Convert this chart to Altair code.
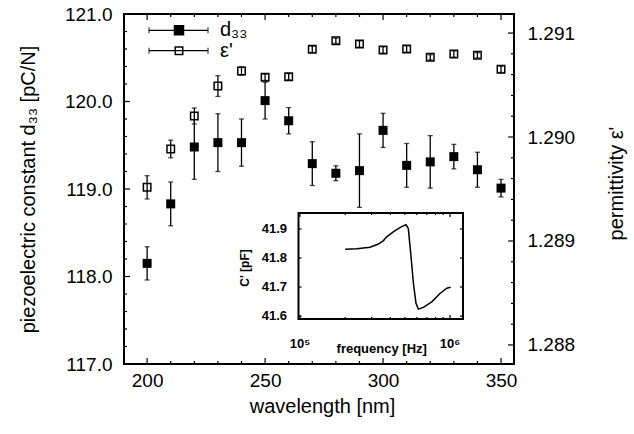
import altair as alt
import pandas as pd

# ---------------- data ----------------
wavelength = [200, 210, 220, 230, 240, 250, 260, 270, 280, 290, 300, 310, 320, 330, 340, 350]
d33 = [118.15, 118.83, 119.48, 119.53, 119.53, 120.01, 119.78, 119.29,
       119.18, 119.21, 119.67, 119.27, 119.31, 119.37, 119.22, 119.01]
d33_err = [0.19, 0.25, 0.37, 0.33, 0.27, 0.21, 0.15, 0.25,
           0.085, 0.42, 0.195, 0.25, 0.30, 0.14, 0.20, 0.10]
eps = [1.289516, 1.289885, 1.290202, 1.290490, 1.290635, 1.290574, 1.290580, 1.290843,
       1.290926, 1.290894, 1.290837, 1.290846, 1.290766, 1.290798, 1.290786, 1.290651]
eps_err = [0.000112, 0.000085, 0.000077, 0.000100, 0.000040, 0.000030, 0.000030, 0.000030,
           0.000025, 0.000030, 0.000030, 0.000030, 0.000025, 0.000030, 0.000025, 0.000030]

# inset: capacitance vs frequency
freq_hz = [2.00e5, 2.39e5, 2.93e5, 3.33e5, 3.60e5, 3.78e5, 4.30e5, 4.76e5, 5.09e5, 5.27e5,
           5.47e5, 5.70e5, 5.93e5, 6.15e5, 6.64e5, 7.55e5, 8.57e5, 9.51e5, 1.01e6]
cap_pf = [41.830, 41.832, 41.837, 41.848, 41.860, 41.873, 41.894, 41.908, 41.915, 41.902,
          41.816, 41.713, 41.644, 41.624, 41.630, 41.649, 41.678, 41.696, 41.699]

# tick labels / tick positions
x_major = [200, 250, 300, 350]
x_minor = [210, 220, 230, 240, 260, 270, 280, 290, 310, 320, 330, 340]
yl_major = [117.0, 118.0, 119.0, 120.0, 121.0]
yl_minor = [117.2, 117.4, 117.6, 117.8, 118.2, 118.4, 118.6, 118.8, 119.2, 119.4, 119.6, 119.8,
            120.2, 120.4, 120.6, 120.8]
yr_major = [1.288, 1.289, 1.290, 1.291]
yr_minor = [1.2882, 1.2884, 1.2886, 1.2888, 1.2892, 1.2894, 1.2896, 1.2898,
            1.2902, 1.2904, 1.2906, 1.2908]
inset_y_ticks = [41.6, 41.7, 41.8, 41.9]
inset_x_major = [1e5, 1e6]
inset_x_labels = ["10⁵", "10⁶"]
inset_x_minor = [2e5, 3e5, 4e5, 5e5, 6e5, 7e5, 8e5, 9e5]

legend_labels = ["d₃₃", "ε'"]
legend_rows = [0, 1]
legend_fills = ["black", "white"]
legend_sizes = [81, 56]

# ---------------- layout ----------------
W, H = 390, 350
FONT = "Liberation Sans"

main_df = pd.DataFrame({
    "wl": wavelength,
    "d33": d33,
    "d_lo": [v - e for v, e in zip(d33, d33_err)],
    "d_hi": [v + e for v, e in zip(d33, d33_err)],
    "eps": eps,
    "e_lo": [v - e for v, e in zip(eps, eps_err)],
    "e_hi": [v + e for v, e in zip(eps, eps_err)],
})

x_scale = alt.Scale(domain=[190.2, 355.5], nice=False, zero=False)
yl_scale = alt.Scale(domain=[117.0, 121.0], nice=False, zero=False)
yr_scale = alt.Scale(domain=[1.287817, 1.291183], nice=False, zero=False)

x_axis = alt.Axis(values=x_major, format="d", title="wavelength [nm]", ticks=False, tickSize=0,
                  domain=False, grid=False, labelPadding=7, titleX=W / 2 + 3, titleY=42,
                  titleAlign="center", titleBaseline="middle")
yl_axis = alt.Axis(orient="left", values=yl_major, format=".1f",
                   title="piezoelectric constant d₃₃ [pC/N]", ticks=False, tickSize=0,
                   domain=False, grid=False, labelPadding=12, titleX=-96, titleY=175,
                   titleAngle=270, titleAlign="center", titleBaseline="middle")
yr_axis = alt.Axis(orient="right", values=yr_major, format=".3f", title="permittivity ε'",
                   ticks=False, tickSize=0, domain=False, grid=False, labelPadding=13,
                   titleX=102, titleY=169, titleAngle=270, titleAlign="center",
                   titleBaseline="middle")


def XM(f):
    return alt.X(f"{f}:Q", scale=x_scale, axis=x_axis)


def XR(f):
    return alt.X(f"{f}:Q", scale=x_scale, axis=None)


def YL(f):
    return alt.Y(f"{f}:Q", scale=yl_scale, axis=yl_axis)


def YR(f):
    return alt.Y(f"{f}:Q", scale=yr_scale, axis=yr_axis)


def vals(lst):
    return pd.DataFrame({"v": lst})


# ---- left / x group ----
xt_bot_maj = alt.Chart(vals(x_major)).mark_rule(color="black", strokeWidth=1.2).encode(
    x=XM("v"), y=alt.value(H), y2=alt.value(H - 6))
xt_bot_min = alt.Chart(vals(x_minor)).mark_rule(color="black", strokeWidth=1.2).encode(
    x=XM("v"), y=alt.value(H), y2=alt.value(H - 3))
xt_top_maj = alt.Chart(vals(x_major)).mark_rule(color="black", strokeWidth=1.2).encode(
    x=XM("v"), y=alt.value(0), y2=alt.value(6))
xt_top_min = alt.Chart(vals(x_minor)).mark_rule(color="black", strokeWidth=1.2).encode(
    x=XM("v"), y=alt.value(0), y2=alt.value(3))
yl_maj = alt.Chart(vals(yl_major)).mark_rule(color="black", strokeWidth=1.2).encode(
    y=YL("v"), x=alt.value(0), x2=alt.value(6))
yl_min = alt.Chart(vals(yl_minor)).mark_rule(color="black", strokeWidth=1.2).encode(
    y=YL("v"), x=alt.value(0), x2=alt.value(3))

d_rule = alt.Chart(main_df).mark_rule(color="black", strokeWidth=1.3).encode(
    x=XM("wl"), y=YL("d_lo"), y2=alt.Y2("d_hi"))
d_cap_lo = alt.Chart(main_df).mark_tick(color="black", orient="horizontal", size=5,
                                        thickness=1.3).encode(x=XM("wl"), y=YL("d_lo"))
d_cap_hi = alt.Chart(main_df).mark_tick(color="black", orient="horizontal", size=5,
                                        thickness=1.3).encode(x=XM("wl"), y=YL("d_hi"))
d_sq = alt.Chart(main_df).mark_square(size=81, color="black", filled=True, opacity=1).encode(
    x=XM("wl"), y=YL("d33"))

g_left = alt.layer(xt_bot_maj, xt_bot_min, xt_top_maj, xt_top_min, yl_maj, yl_min,
                   d_rule, d_cap_lo, d_cap_hi, d_sq)

# ---- right group ----
yr_maj = alt.Chart(vals(yr_major)).mark_rule(color="black", strokeWidth=1.2).encode(
    y=YR("v"), x=alt.value(W), x2=alt.value(W - 6))
yr_min = alt.Chart(vals(yr_minor)).mark_rule(color="black", strokeWidth=1.2).encode(
    y=YR("v"), x=alt.value(W), x2=alt.value(W - 3))
e_sq = alt.Chart(main_df).mark_square(size=56, fill="white", stroke="black", strokeWidth=1.5,
                                      opacity=1, fillOpacity=1).encode(x=XR("wl"), y=YR("eps"))
e_rule = alt.Chart(main_df).mark_rule(color="black", strokeWidth=1.3).encode(
    x=XR("wl"), y=YR("e_lo"), y2=alt.Y2("e_hi"))
e_cap_lo = alt.Chart(main_df).mark_tick(color="black", orient="horizontal", size=5,
                                        thickness=1.3).encode(x=XR("wl"), y=YR("e_lo"))
e_cap_hi = alt.Chart(main_df).mark_tick(color="black", orient="horizontal", size=5,
                                        thickness=1.3).encode(x=XR("wl"), y=YR("e_hi"))

g_right = alt.layer(yr_maj, yr_min, e_sq, e_rule, e_cap_lo, e_cap_hi)

# ---- legend group ----
leg_df = pd.DataFrame({"label": legend_labels, "row": legend_rows, "fill": legend_fills,
                       "sz": legend_sizes})
LY = alt.Y("row:Q", scale=alt.Scale(domain=[0, 1], range=[16.3, 36.7], nice=False, zero=False),
           axis=None)
leg_sq = alt.Chart(leg_df).mark_square(stroke="black", strokeWidth=1.5, opacity=1).encode(
    y=LY, x=alt.value(55), fill=alt.Fill("fill:N", scale=None), size=alt.Size("sz:Q", scale=None))
leg_rule = alt.Chart(leg_df).mark_rule(color="black", strokeWidth=1.3).encode(
    y=LY, x=alt.value(25), x2=alt.value(84))
leg_cap_l = alt.Chart(leg_df).mark_tick(color="black", orient="vertical", size=6,
                                        thickness=1.3).encode(y=LY, x=alt.value(25))
leg_cap_r = alt.Chart(leg_df).mark_tick(color="black", orient="vertical", size=6,
                                        thickness=1.3).encode(y=LY, x=alt.value(84))
leg_txt = alt.Chart(leg_df).mark_text(align="left", baseline="middle", font=FONT, fontSize=20,
                                      color="black").encode(
    y=LY, x=alt.value(96), text="label:N")

g_legend = alt.layer(leg_sq, leg_rule, leg_cap_l, leg_cap_r, leg_txt)

# ---- inset group ----
f_scale = alt.Scale(type="log", domain=[9.77e4, 1.22e6], range=[174.5, 339])
c_scale = alt.Scale(domain=[41.59, 41.955], range=[305, 199], nice=False, zero=False)


def XF(f):
    return alt.X(f"{f}:Q", scale=f_scale, axis=None)


def YC(f):
    return alt.Y(f"{f}:Q", scale=c_scale, axis=None)


frame_df = pd.DataFrame({"f0": [9.77e4], "f1": [1.22e6], "c0": [41.59], "c1": [41.955]})
in_frame = alt.Chart(frame_df).mark_rect(fill="white", stroke="black", strokeWidth=2).encode(
    x=XF("f0"), x2=alt.X2("f1"), y=YC("c0"), y2=alt.Y2("c1"))
curve_df = pd.DataFrame({"f": freq_hz, "c": cap_pf})
in_line = alt.Chart(curve_df).mark_line(color="black", strokeWidth=1.5).encode(
    x=XF("f"), y=YC("c"), order="f:Q")
in_tl = alt.Chart(vals(inset_y_ticks)).mark_rule(color="black", strokeWidth=1.2).encode(
    y=YC("v"), x=alt.value(174.5), x2=alt.value(177.5))
in_tr = alt.Chart(vals(inset_y_ticks)).mark_rule(color="black", strokeWidth=1.2).encode(
    y=YC("v"), x=alt.value(339), x2=alt.value(336))
in_tb_maj = alt.Chart(vals(inset_x_major)).mark_rule(color="black", strokeWidth=1.2).encode(
    x=XF("v"), y=alt.value(305), y2=alt.value(301))
in_tb_min = alt.Chart(vals(inset_x_minor)).mark_rule(color="black", strokeWidth=1.2).encode(
    x=XF("v"), y=alt.value(305), y2=alt.value(303))
in_tt_maj = alt.Chart(vals(inset_x_major)).mark_rule(color="black", strokeWidth=1.2).encode(
    x=XF("v"), y=alt.value(199), y2=alt.value(203))
in_tt_min = alt.Chart(vals(inset_x_minor)).mark_rule(color="black", strokeWidth=1.2).encode(
    x=XF("v"), y=alt.value(199), y2=alt.value(201))
in_ylab = alt.Chart(vals(inset_y_ticks)).mark_text(
    align="right", baseline="middle", font=FONT, fontSize=13, fontWeight="bold",
    color="black").encode(y=YC("v"), x=alt.value(163), text=alt.Text("v:Q", format=".1f"))
in_xlab = alt.Chart(pd.DataFrame({"v": inset_x_major, "lab": inset_x_labels})).mark_text(
    align="center", baseline="middle", font=FONT, fontSize=13, fontWeight="bold",
    color="black").encode(x=XF("v"), y=alt.value(330), text="lab:N")
in_xtitle = alt.Chart(pd.DataFrame({"t": ["frequency [Hz]"]})).mark_text(
    align="center", baseline="middle", font=FONT, fontSize=13, fontWeight="bold",
    color="black").encode(x=alt.value(257.7), y=alt.value(335), text="t:N")
in_ytitle = alt.Chart(pd.DataFrame({"t": ["C' [pF]"]})).mark_text(
    align="center", baseline="middle", font=FONT, fontSize=12, fontWeight="bold", angle=270,
    color="black").encode(x=alt.value(121), y=alt.value(254), text="t:N")

g_inset = alt.layer(in_frame, in_line, in_tl, in_tr, in_tb_maj, in_tb_min, in_tt_maj,
                    in_tt_min, in_ylab, in_xlab, in_xtitle, in_ytitle)

chart = alt.layer(g_left, g_right, g_legend, g_inset).resolve_scale(
    x="independent", y="independent"
).properties(
    width=W, height=H,
    autosize=alt.AutoSizeParams(type="none"),
    padding={"left": 124, "top": 14, "right": 120, "bottom": 70},
    background="white",
).configure_view(
    stroke="black", strokeWidth=2
).configure_axis(
    labelFont=FONT, labelFontSize=19, labelColor="black",
    titleFont=FONT, titleFontSize=20, titleFontWeight="normal", titleColor="black",
)

chart.save("out.html", embed_options={"renderer": "svg", "actions": False})
